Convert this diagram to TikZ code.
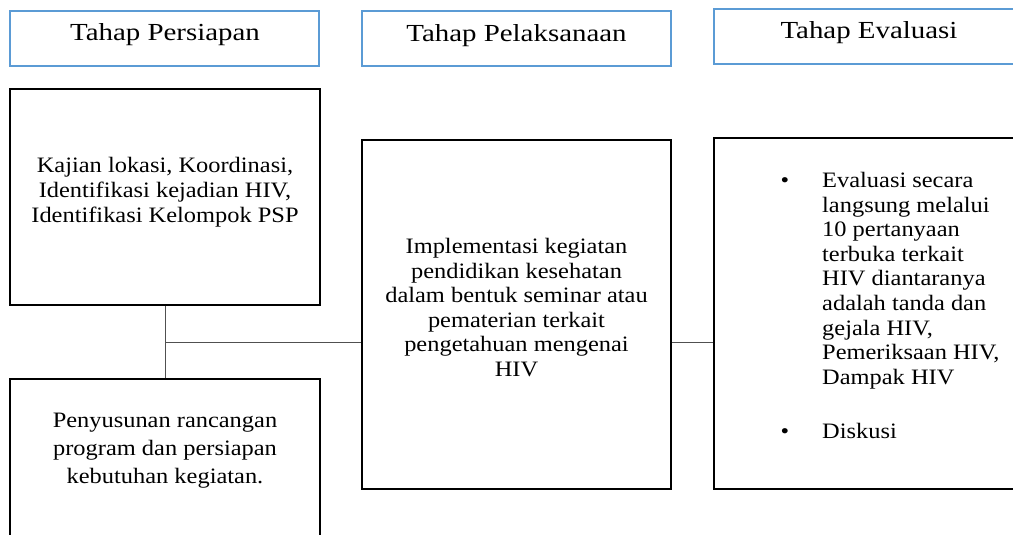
\documentclass[tikz,border=0pt]{standalone}
\usepackage{fontspec}
\setmainfont{Liberation Serif}[FakeStretch=1.11]
\newfontfamily\headfont{Liberation Serif}[FakeStretch=1.18]
\definecolor{hblue}{RGB}{91,155,213}
\definecolor{conngray}{RGB}{80,80,80}
\tikzset{
  headbox/.style={draw=hblue, line width=1.6pt, inner sep=0pt, minimum width=309pt, minimum height=55pt},
  mainbox/.style={draw=black, line width=1.8pt, inner sep=0pt},
  conn/.style={draw=conngray, line width=0.8pt},
  headtxt/.style={font=\headfont\fontsize{24.5}{28}\selectfont, inner sep=0pt},
  bodytxt/.style={font=\fontsize{22}{25}\selectfont, inner sep=0pt, align=center},
}
\begin{document}
\begin{tikzpicture}[x=1pt,y=-1pt]
\useasboundingbox (0,0) rectangle (1013,535);
\clip (0,0) rectangle (1013,535);
% header boxes
\node[headbox] (h1) at (164.5,38.5) {};
\node[headbox] (h2) at (516.5,38.5) {};
\node[headbox, minimum width=316pt] (h3) at (872,36.5) {};
\node[headtxt, anchor=base] (t1) at (165,41) {Tahap Persiapan};
\node[headtxt, anchor=base] (t2) at (516.5,42) {Tahap Pelaksanaan};
\node[headtxt, anchor=base] (t3) at (869,39) {Tahap Evaluasi};
% main boxes
\node[mainbox, minimum width=310pt, minimum height=216pt] (b1) at (165,197) {};
\node[mainbox, minimum width=310pt, minimum height=221pt] (b2) at (165,489.5) {};
\node[mainbox, minimum width=309pt, minimum height=349pt] (m) at (516.5,314.5) {};
\node[mainbox, minimum width=316pt, minimum height=351pt] (r) at (872,313.5) {};
% texts
\node[bodytxt, anchor=north] (b1t) at (165,157) {Kajian lokasi, Koordinasi,\\Identifikasi kejadian HIV,\\Identifikasi Kelompok PSP};
\node[bodytxt, anchor=north, font=\fontsize{22}{28}\selectfont] (b2t) at (165,412.4) {Penyusunan rancangan\\program dan persiapan\\kebutuhan kegiatan.};
\node[bodytxt, anchor=north, font=\fontsize{22}{24.5}\selectfont] (mt) at (516.5,238.5) {Implementasi kegiatan\\pendidikan kesehatan\\dalam bentuk seminar atau\\pematerian terkait\\pengetahuan mengenai\\HIV};
\node[bodytxt, anchor=north west, align=left, font=\fontsize{22}{24.6}\selectfont] (rt) at (822,172) {Evaluasi secara\\langsung melalui\\10 pertanyaan\\terbuka terkait\\HIV diantaranya\\adalah tanda dan\\gejala HIV,\\Pemeriksaan HIV,\\Dampak HIV};
\node[bodytxt, anchor=base west] (rd) at (822,438) {Diskusi};
\node[bodytxt, anchor=base] (bul1) at (785,187) {\textbullet};
\node[bodytxt, anchor=base] (bul2) at (785,438) {\textbullet};
% connectors
\coordinate (j) at (165,342);
\draw[conn] (b1.south) -- (b2.north);
\draw[conn] (j) -- (j -| m.west);
\draw[conn] (m.east |- j) -- (j -| r.west);
\end{tikzpicture}
\end{document}
